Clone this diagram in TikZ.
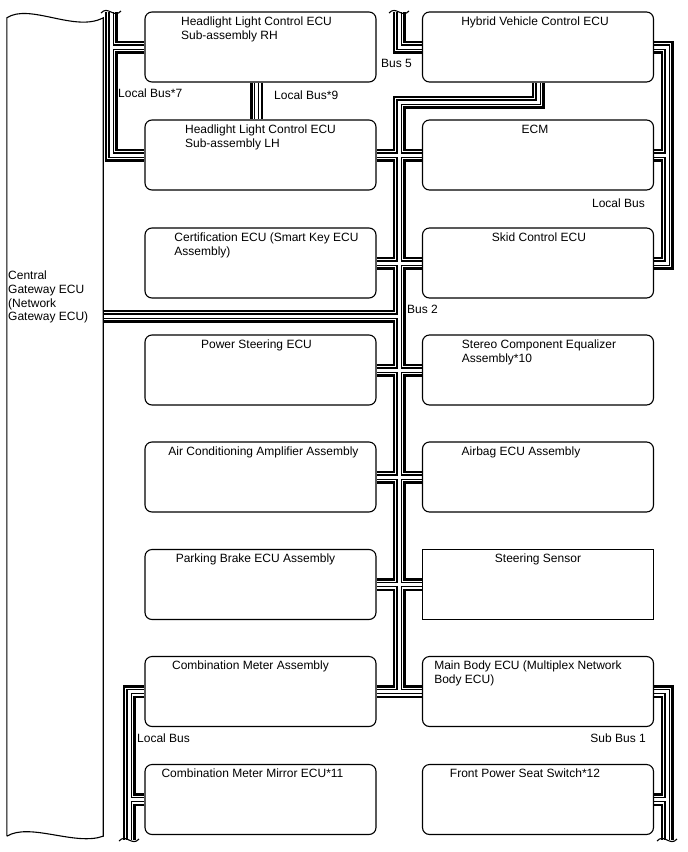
\documentclass[tikz,border=0pt]{standalone}
\usepackage{fontspec}
\setmainfont{Liberation Sans}
\usetikzlibrary{calc,backgrounds}
\newcommand\ecufont{\fontsize{12}{13.8}\selectfont}

\begin{document}
\begin{tikzpicture}[x=1pt,y=-1pt,
    ecu/.style={draw,fill=white,line width=1.1pt,rounded corners=7pt,minimum width=231pt,minimum height=70pt,inner sep=0pt},
    title/.style={anchor=north,align=left,inner sep=0pt,yshift=-5pt,font=\ecufont},
    buslabel/.style={inner sep=0pt,font=\ecufont},
    brk/.style={line width=1.1pt}]
  \useasboundingbox (0,0) rectangle (688,852);

  % gateway
  \node[minimum width=96pt,minimum height=818pt,inner sep=0pt] (gw) at (55,427) {};
  \draw[line width=1.1pt] (gw.south west) -- (gw.north west)
    .. controls ($(gw.north west)+(23,-15)$) and ($(gw.north east)+(-28,15)$) .. (gw.north east)
    -- (gw.south east)
    .. controls ($(gw.south east)+(-28,10)$) and ($(gw.south west)+(23,-14)$) .. (gw.south west);
  \node[anchor=west,align=left,inner sep=0pt,font=\ecufont] (gwtext) at (8,297) {Central\\Gateway ECU\\(Network\\Gateway ECU)};

  % left column
  \node[ecu] (rh) at (260.5,47) {};
  \node[ecu] (lh) at (260.5,155) {};
  \node[ecu] (cert) at (260.5,263) {};
  \node[ecu] (ps) at (260.5,370) {};
  \node[ecu] (ac) at (260.5,477) {};
  \node[ecu] (pb) at (260.5,584.5) {};
  \node[ecu] (cm) at (260.5,691.5) {};
  \node[ecu] (cmm) at (260.5,799.5) {};
  % right column
  \node[ecu] (hv) at (538,47) {};
  \node[ecu] (ecm) at (538,155) {};
  \node[ecu] (skid) at (538,263) {};
  \node[ecu] (stereo) at (538,370) {};
  \node[ecu] (airbag) at (538,477) {};
  \node[ecu,sharp corners] (ss) at (538,584.5) {};
  \node[ecu] (mb) at (538,691.5) {};
  \node[ecu] (fps) at (538,799.5) {};

  \node[title] (t-rh) at ([xshift=-4]rh.north) {Headlight Light Control ECU\\Sub-assembly RH};
  \node[title] (t-lh) at (lh.north) {Headlight Light Control ECU\\Sub-assembly LH};
  \node[title] (t-cert) at ([xshift=6]cert.north) {Certification ECU (Smart Key ECU\\Assembly)};
  \node[title] (t-ps) at ([xshift=-4]ps.north) {Power Steering ECU};
  \node[title] (t-ac) at ([xshift=3]ac.north) {Air Conditioning Amplifier Assembly};
  \node[title] (t-pb) at ([xshift=-5]pb.north) {Parking Brake ECU Assembly};
  \node[title] (t-cm) at ([xshift=-10]cm.north) {Combination Meter Assembly};
  \node[title] (t-cmm) at ([xshift=-8]cmm.north) {Combination Meter Mirror ECU*11};
  \node[title] (t-hv) at ([xshift=-3]hv.north) {Hybrid Vehicle Control ECU};
  \node[title] (t-ecm) at ([xshift=-3]ecm.north) {ECM};
  \node[title] (t-skid) at ([xshift=1]skid.north) {Skid Control ECU};
  \node[title] (t-stereo) at ([xshift=1]stereo.north) {Stereo Component Equalizer\\Assembly*10};
  \node[title] (t-airbag) at ([xshift=-17]airbag.north) {Airbag ECU Assembly};
  \node[title] (t-ss) at (ss.north) {Steering Sensor};
  \node[title] (t-mb) at ([xshift=-10]mb.north) {Main Body ECU (Multiplex Network\\Body ECU)};
  \node[title] (t-fps) at ([xshift=-13]fps.north) {Front Power Seat Switch*12};

  % bus points
  \coordinate (b2top) at (399,102);
  \coordinate (b2gw) at (103,316);
  \coordinate (b5brk) at (399,12);
  \coordinate (lb7brk) at (111,12);
  \coordinate (lbr) at (667,47);
  \coordinate (sbbrk) at (667,840);
  \coordinate (lbbrk) at (129,840);

  \begin{pgfonlayer}{background}
    \foreach \w/\c in {13/black,8/white,5.5/black,3/white}{
      \draw[line width=\w pt,\c]
        % Bus 2
        (hv.south) -- (hv.south |- b2top) -- (b2top) -- (b2top |- cm.east)
        (b2gw) -- (b2gw -| b2top)
        (lh.east) -- (ecm.west)
        (cert.east) -- (skid.west)
        (ps.east) -- (stereo.west)
        (ac.east) -- (airbag.west)
        (pb.east) -- (ss.west)
        (cm.east) -- (mb.west)
        % Bus 5
        (b5brk) -- (b5brk |- hv.west) -- (hv.west)
        % Local Bus*7, *9
        (lb7brk) -- (lb7brk |- lh.west) -- (lh.west)
        (rh.west) -- (rh.west -| lb7brk)
        ([xshift=-4]rh.south) -- ([xshift=-4]lh.north)
        % Local Bus right
        (hv.east) -- (lbr) -- (lbr |- skid.east) -- (skid.east)
        (ecm.east) -- (ecm.east -| lbr)
        % Sub Bus 1
        (mb.east) -- (mb.east -| sbbrk) -- (sbbrk)
        (fps.east) -- (fps.east -| sbbrk)
        % Local Bus bottom
        (cm.west) -- (cm.west -| lbbrk) -- (lbbrk)
        (cmm.west) -- (cmm.west -| lbbrk);
    }
  \end{pgfonlayer}

  % breaks
  \foreach \p in {lb7brk,b5brk,lbbrk,sbbrk}
    \draw[brk] ($(\p)+(-10,1)$) .. controls ($(\p)+(-3,-7)$) and ($(\p)+(3,7)$) .. ($(\p)+(10,-1)$);

  % bus labels
  \node[buslabel,anchor=west] (l-lb7) at (118,93) {Local Bus*7};
  \node[buslabel,anchor=west] (l-lb9) at (274,95) {Local Bus*9};
  \node[buslabel,anchor=west] (l-b5) at (381,63) {Bus 5};
  \node[buslabel,anchor=west] (l-b2) at (407,309) {Bus 2};
  \node[buslabel,anchor=east] (l-lbr) at (645,203) {Local Bus};
  \node[buslabel,anchor=west] (l-lbl) at (137,738) {Local Bus};
  \node[buslabel,anchor=east] (l-sb1) at (646,738) {Sub Bus 1};
\end{tikzpicture}
\end{document}
